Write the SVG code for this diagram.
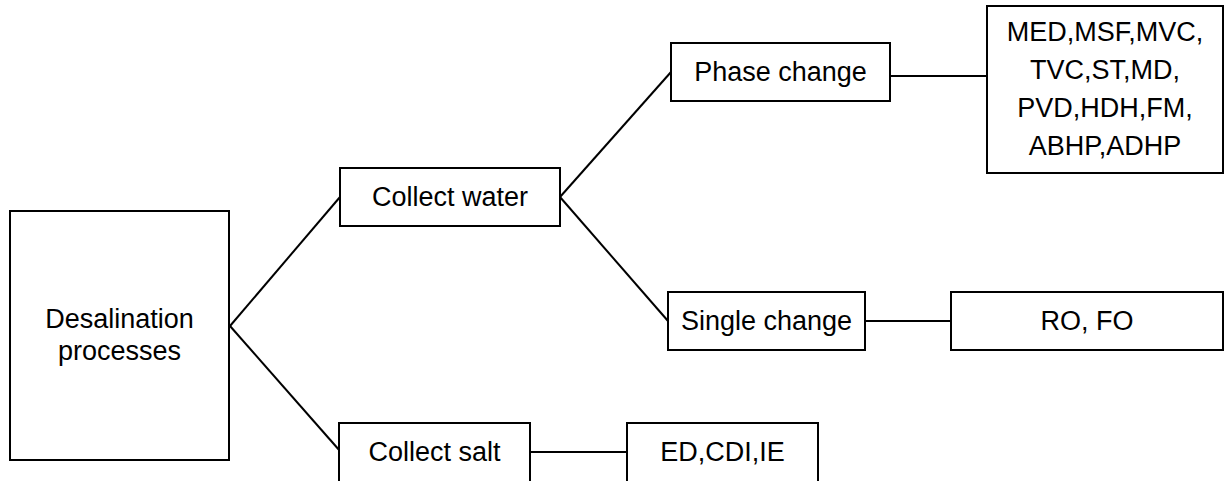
<svg xmlns="http://www.w3.org/2000/svg" width="1225" height="481" viewBox="0 0 1225 481">
<style>
.box{fill:#fff;stroke:#000;stroke-width:2}
.ln{stroke:#000;stroke-width:2;fill:none}
text{font-family:"Liberation Sans",Arial,sans-serif;font-size:27px;fill:#000;text-anchor:middle}
</style>
<rect width="1225" height="481" fill="#fff"/>
<g id="connectors">
<line class="ln" x1="230" y1="326" x2="340" y2="197"/>
<line class="ln" x1="230" y1="326" x2="340" y2="451"/>
<line class="ln" x1="560" y1="197" x2="671" y2="72"/>
<line class="ln" x1="560" y1="197" x2="668" y2="321"/>
<line class="ln" x1="890" y1="76" x2="987" y2="76"/>
<line class="ln" x1="865" y1="321" x2="951" y2="321"/>
<line class="ln" x1="530" y1="452" x2="627" y2="452"/>
</g>
<g id="desalination">
<rect class="box" x="10" y="211" width="219" height="249"/>
<text x="119.5" y="328">Desalination</text>
<text x="119.5" y="360">processes</text>
</g>
<g id="collect-water">
<rect class="box" x="340" y="168" width="220" height="58"/>
<text x="450" y="206">Collect water</text>
</g>
<g id="collect-salt">
<rect class="box" x="339" y="423" width="191" height="60"/>
<text x="434.5" y="461">Collect salt</text>
</g>
<g id="ed-cdi-ie">
<rect class="box" x="627" y="423" width="191" height="60"/>
<text x="722.5" y="461">ED,CDI,IE</text>
</g>
<g id="phase-change">
<rect class="box" x="671" y="43" width="219" height="58"/>
<text x="780.5" y="81">Phase change</text>
</g>
<g id="single-change">
<rect class="box" x="668" y="292" width="197" height="58"/>
<text x="766.5" y="330">Single change</text>
</g>
<g id="phase-methods">
<rect class="box" x="987" y="6" width="236" height="167"/>
<text x="1105" y="41">MED,MSF,MVC,</text>
<text x="1105" y="79">TVC,ST,MD,</text>
<text x="1105" y="117">PVD,HDH,FM,</text>
<text x="1105" y="155">ABHP,ADHP</text>
</g>
<g id="single-methods">
<rect class="box" x="951" y="292" width="272" height="58"/>
<text x="1087" y="330">RO, FO</text>
</g>
</svg>
